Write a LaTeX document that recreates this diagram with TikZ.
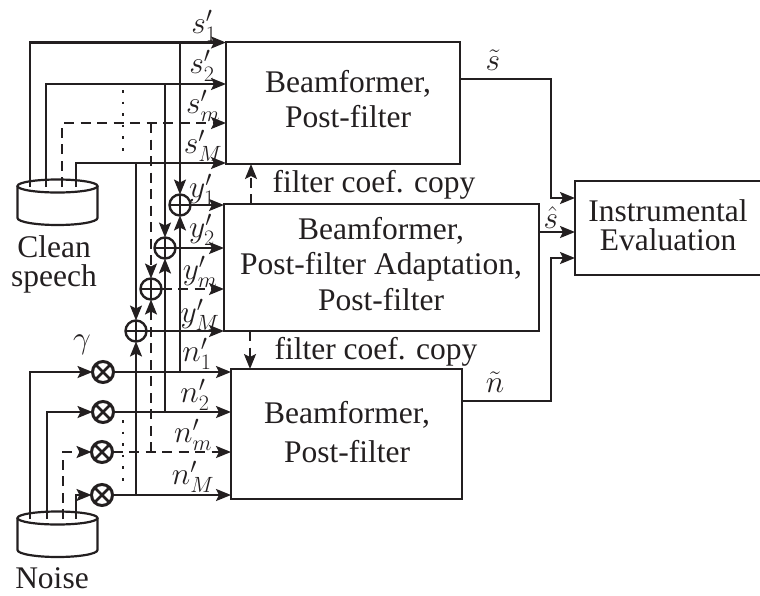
\documentclass[tikz,border=0pt]{standalone}
\usepackage{fix-cm}
\usepackage{fontspec}
\setmainfont{Liberation Serif}
\usetikzlibrary{arrows.meta}
\definecolor{ink}{RGB}{35,31,32}
\begin{document}
\begin{tikzpicture}[
	x=1pt, y=-1pt,
	every node/.style = {text=ink, font=\fontsize{31.5}{38}\selectfont},
	bx/.style = {rectangle, draw=ink, line width=2.4pt, outer sep=0pt, inner sep=0pt},
	txt/.style = {align=center, inner sep=0pt},
	r/.style = {-{Stealth[length=15pt, width=12pt, inset=3pt]}, draw=ink, line width=2.2pt},
	d/.style = {dash pattern=on 10pt off 6.5pt},
	dots/.style = {draw=ink, line width=2.6pt, dash pattern=on 2.6pt off 9pt},
	sum/.style = {circle, draw=ink, line width=2.4pt, minimum size=21pt, inner sep=0pt, outer sep=0pt,
		path picture={\draw[ink, line width=1.9pt] (path picture bounding box.north) -- (path picture bounding box.south)
			(path picture bounding box.west) -- (path picture bounding box.east);}},
	mul/.style = {circle, draw=ink, line width=3pt, minimum size=21pt, inner sep=0pt, outer sep=0pt,
		path picture={\draw[ink, line width=2.8pt] (path picture bounding box.north west) -- (path picture bounding box.south east)
			(path picture bounding box.south west) -- (path picture bounding box.north east);}},
	pics/drum/.style = {code={
		\draw[ink, line width=2.2pt] (0, 0) ellipse [x radius=40pt, y radius=6.5pt];
		\draw[ink, line width=2.2pt] (-40, 0) -- (-40, 32) arc [start angle=180, end angle=360, x radius=40pt, y radius=7pt] -- (40, 0);
	}}
	]
	\useasboundingbox (0, 0) rectangle (760, 595);
	
	% ===== ===== ===== ===== =====
	
	% Nodes
	\node[bx, minimum width=234pt, minimum height=122pt]	(b1)	at	(343, 103)	{};
	\node[bx, minimum width=315pt, minimum height=127pt]	(b2)	at	(381.5, 267.5)	{};
	\node[bx, minimum width=231pt, minimum height=130pt]	(b3)	at	(346.5, 434)	{};
	\node[bx, minimum width=195pt, minimum height=94pt]		(b4)	at	(672.5, 228)	{};
	
	\node[txt]	(b1t)	at	(348, 99)	{Beamformer,\\[-3pt]Post-filter};
	\node[txt]	(b2t)	at	(381, 264)	{Beamformer,\\[-2.5pt]Post-filter Adaptation,\\[-2.5pt]Post-filter};
	\node[txt]	(b3t)	at	(347, 432)	{Beamformer,\\[1pt]Post-filter};
	\node[txt]	(b4t)	at	(668, 225)	{Instrumental\\[-9pt]Evaluation};
	
	\pic	(clean)	at	(57.5, 186)	{drum};
	\pic	(noise)	at	(57.5, 518)	{drum};
	\node[txt]	(cleantxt)	at	(54, 264)	{Clean\\[-9pt]speech};
	\node	(noisetxt)	at	(52, 578)	{Noise};
	
	\node[sum]	(a1)	at	(180, 205)	{};
	\node[sum]	(a2)	at	(165, 248)	{};
	\node[sum]	(a3)	at	(151, 289)	{};
	\node[sum]	(a4)	at	(136, 331)	{};
	
	\node[mul]	(m1)	at	(103, 372)	{};
	\node[mul]	(m2)	at	(103, 412)	{};
	\node[mul]	(m3)	at	(102, 452)	{};
	\node[mul]	(m4)	at	(102, 495)	{};
	
	% Labels
	\node	(ls1)	at	(204, 26)	{$s'_1$};
	\node	(ls2)	at	(202, 66)	{$s'_2$};
	\node	(lsm)	at	(203, 106)	{$s'_m$};
	\node	(lsM)	at	(203, 146)	{$s'_M$};
	\node	(ly1)	at	(202, 190)	{$y'_1$};
	\node	(ly2)	at	(202, 230)	{$y'_2$};
	\node	(lym)	at	(200, 272)	{$y'_m$};
	\node	(lyM)	at	(200, 315)	{$y'_M$};
	\node	(ln1)	at	(197, 354)	{$n'_1$};
	\node	(ln2)	at	(195, 395)	{$n'_2$};
	\node	(lnm)	at	(193, 435)	{$n'_m$};
	\node	(lnM)	at	(193, 477)	{$n'_M$};
	\node	(lg)	at	(82, 345)	{$\gamma$};
	\node	(ls)	at	(493, 60)	{$\tilde{s}$};
	\node	(lh)	at	(551, 218)	{$\hat{s}$};
	\node	(ln)	at	(495, 382)	{$\tilde{n}$};
	\node	(cp1)	at	(374, 185)	{filter coef. copy};
	\node	(cp2)	at	(376, 352)	{filter coef. copy};
	
	% Coordinates
	\coordinate	(c1)	at	(30, 187);
	\coordinate	(c2)	at	(46, 187);
	\coordinate	(c3)	at	(62, 187);
	\coordinate	(c4)	at	(76, 187);
	\coordinate	(s1)	at	(226, 42.5);
	\coordinate	(s2)	at	(226, 84);
	\coordinate	(s3)	at	(226, 123);
	\coordinate	(s4)	at	(226, 163);
	\coordinate	(n1)	at	(30, 519);
	\coordinate	(n2)	at	(47, 519);
	\coordinate	(n3)	at	(63, 519);
	\coordinate	(n4)	at	(76, 519);
	\coordinate	(t1)	at	(123, 90);
	\coordinate	(t2)	at	(123, 156);
	\coordinate	(t3)	at	(123, 420);
	\coordinate	(t4)	at	(123, 487);
	\coordinate	(k1)	at	(251, 204);
	\coordinate	(k2)	at	(251, 164);
	\coordinate	(k3)	at	(250, 331);
	\coordinate	(k4)	at	(250, 369);
	\coordinate	(j1)	at	(551, 79);
	\coordinate	(j2)	at	(551, 401);
	\coordinate	(j3)	at	(539, 232);
	\coordinate	(i1)	at	(575, 198);
	\coordinate	(i2)	at	(575, 258);
	
	% Lines
	\draw[r]	(c1)	|-	(s1);
	\draw[r]	(c2)	|-	(s2);
	\draw[r, d]	(c3)	|-	(s3);
	\draw[r]	(c4)	|-	(s4);
	\draw[dots]	(t1)	to	(t2);
	
	\draw[r]	(a1 |- s1)	to	(a1.north);
	\draw[r]	(a2 |- s2)	to	(a2.north);
	\draw[r, d]	(a3 |- s3)	to	(a3.north);
	\draw[r]	(a4 |- s4)	to	(a4.north);
	
	\draw[r]	(a1.east)	to	(a1 -| b2.west);
	\draw[r]	(a2.east)	to	(a2 -| b2.west);
	\draw[r, d]	(a3.east)	to	(a3 -| b2.west);
	\draw[r]	(a4.east)	to	(a4 -| b2.west);
	
	\draw[r]	(n1)	|-	(m1.west);
	\draw[r]	(n2)	|-	(m2.west);
	\draw[r, d]	(n3)	|-	(m3.west);
	\draw[r]	(n4)	|-	(m4.west);
	\draw[dots]	(t3)	to	(t4);
	
	\draw[r]	(m1.east)	to	(m1 -| b3.west);
	\draw[r]	(m2.east)	to	(m2 -| b3.west);
	\draw[r, d]	(m3.east)	to	(m3 -| b3.west);
	\draw[r]	(m4.east)	to	(m4 -| b3.west);
	
	\draw[r]	(a1 |- m1)	to	(a1.south);
	\draw[r]	(a2 |- m2)	to	(a2.south);
	\draw[r, d]	(a3 |- m3)	to	(a3.south);
	\draw[r]	(a4 |- m4)	to	(a4.south);
	
	\draw[r, d]	(k1)	to	(k2);
	\draw[r, d]	(k3)	to	(k4);
	
	% ===== ===== ===== ===== =====
	
	\draw[r]	(j1 -| b1.east)	to	(j1)	|-	(i1);
	\draw[r]	(j3)	to	(j3 -| b4.west);
	\draw[r]	(j2 -| b3.east)	to	(j2)	|-	(i2);
	
\end{tikzpicture}
\end{document}
